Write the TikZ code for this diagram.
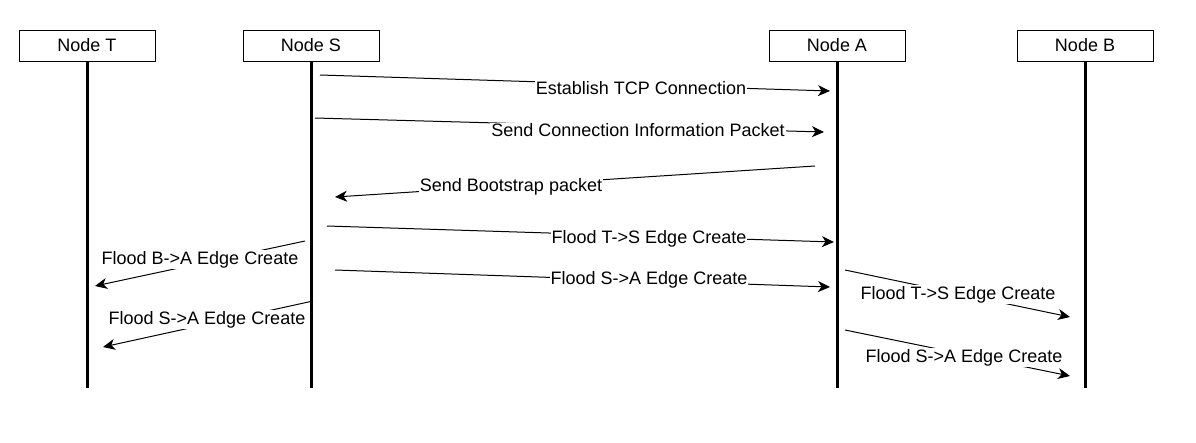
\documentclass[tikz,border=0pt]{standalone}
\usepackage{fontspec}
\setmainfont{Liberation Sans}
\usepackage{tikz}
\usetikzlibrary{arrows.meta, positioning}

\tikzstyle{party} = [draw, line width = 1pt, minimum width = 136pt, minimum height = 31pt, inner sep = 0pt, text depth = 2pt]
\tikzstyle{life} = [line width = 3pt]
\tikzstyle{msg} = [line width = 1pt, -{Stealth[length = 12pt, width = 11pt, inset = 3.5pt]}]
\tikzstyle{msglabel} = [fill = white, inner sep = 1pt, yshift = -1.5pt]

\begin{document}
\begin{tikzpicture}[x = {(1pt,0)}, y = {(0,-1pt)}, font = \fontsize{18}{22}\selectfont]
        \useasboundingbox (0,0) rectangle (1196,442);

        % parties and their lifelines
        \foreach \n/\x in {T/87, S/311, A/837, B/1085}
        {
            \node [party] (\n) at (\x,45.5) {Node \n};
            \coordinate (\n end) at (\x,388);
            \draw [life] (\n.south) -- (\n end);
        }

        % messages
        \foreach \i/\sx/\sy/\ex/\ey/\lx/\ly/\txt in {
            1/320/75/830/91/641/87/Establish TCP Connection,
            2/315/118/824/132/638/129/Send Connection Information Packet,
            3/815/166/335/197/511/185/Send Bootstrap packet,
            4/327/226/834/242/649/237/Flood T->S Edge Create,
            5/305/241/95/286/200/258/Flood B->A Edge Create,
            6/335/270/830/287/649/278/Flood S->A Edge Create,
            7/313/301/103/347/207/318/Flood S->A Edge Create,
            8/845/270/1070/317/958/293/Flood T->S Edge Create,
            9/845/330/1070/376/964/356/Flood S->A Edge Create}
        {
            \coordinate (m\i s) at (\sx,\sy);
            \coordinate (m\i e) at (\ex,\ey);
            \draw [msg] (m\i s) -- (m\i e);
            \node [msglabel] (l\i) at (\lx,\ly) {\txt};
        }
    \end{tikzpicture}
\end{document}
